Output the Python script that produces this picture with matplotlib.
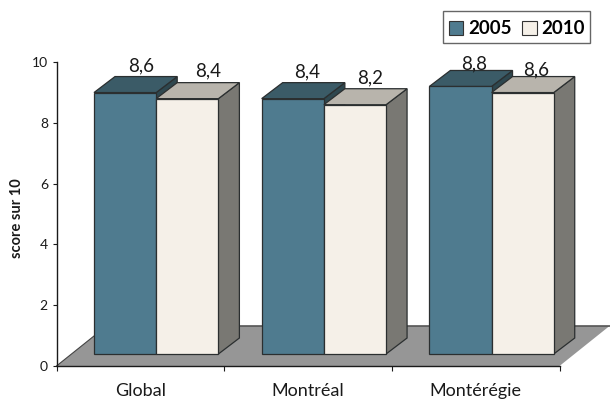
import matplotlib
matplotlib.use("Agg")
import matplotlib.pyplot as plt
from matplotlib.patches import Polygon, Rectangle

plt.rcParams['font.family'] = ['Lato', 'DejaVu Sans']

categories = ["Global", "Montréal", "Montérégie"]
series_2005 = [8.6, 8.4, 8.8]
series_2010 = [8.4, 8.2, 8.6]
value_labels_2005 = ["8,6", "8,4", "8,8"]
value_labels_2010 = ["8,4", "8,2", "8,6"]
y_ticks = [0, 2, 4, 6, 8, 10]

W, H = 610, 399
L, R, T, B = 56.5, 559.5, 62.0, 366.0
fig = plt.figure(figsize=(W / 100, H / 100), dpi=100)
ax = fig.add_axes([L / W, 1 - B / H, (R - L) / W, (B - T) / H])
ax.set_xlim(0, 3)
ax.set_ylim(0, 10)

px_x = 3 / (R - L)          # data units per pixel, horizontally
px_y = 10 / (B - T)         # data units per pixel, vertically
dx, dy = 21 * px_x, 16 * px_y        # oblique depth of each column
base = 12 * px_y                     # column foot above the axis line
bar_w = 62.2 * px_x
first = 37.5 * px_x                  # gap from category edge to first column

EDGE = "#2b2f30"
STYLE_2005 = ("#4f7b8f", "#3b5b67", "#2e474f")
STYLE_2010 = ("#f5f0e8", "#b8b4ac", "#797873")


def column(x0, value, colours, z):
    front, top, side = colours
    y0, y1 = base, base + value
    x1 = x0 + bar_w
    kw = dict(edgecolor=EDGE, linewidth=0.9, joinstyle="miter", clip_on=False, zorder=z)
    ax.add_patch(Polygon([(x1, y0), (x1 + dx, y0 + dy), (x1 + dx, y1 + dy), (x1, y1)],
                         facecolor=side, **kw))
    ax.add_patch(Polygon([(x0, y1), (x0 + dx, y1 + dy), (x1 + dx, y1 + dy), (x1, y1)],
                         facecolor=top, **kw))
    ax.add_patch(Polygon([(x0, y0), (x1, y0), (x1, y1), (x0, y1)],
                         facecolor=front, **kw))


# Floor of the 3D plot
floor_dx, floor_dy = 50 * px_x, 40 * px_y
ax.add_patch(Polygon([(0, 0), (3, 0), (3 + floor_dx, floor_dy), (floor_dx, floor_dy)],
                     facecolor="#969696", edgecolor="none", clip_on=False, zorder=1))
ax.plot([floor_dx, 3 + floor_dx], [floor_dy, floor_dy], color="#555555", lw=1.2,
        clip_on=False, zorder=1.5, solid_capstyle="butt")
ax.plot([0, floor_dx], [0, floor_dy], color="#444444", lw=0.8, clip_on=False, zorder=1.5)

# Label nudges in pixels, relative to the top of each column's back edge
label_nudge_2005 = [(15.7, 5), (14.5, 5), (14, 1.5)]
label_nudge_2010 = [(21, 6), (15, 5), (13.5, 1.5)]

for i in range(len(categories)):
    x_a = i + first
    x_b = x_a + bar_w
    # The 2010 column sits in front of the 2005 column's side face
    column(x_a, series_2005[i], STYLE_2005, 2 + i)
    column(x_b, series_2010[i], STYLE_2010, 2.5 + i)
    for x0, v, s, (nx, ny) in ((x_a, series_2005[i], value_labels_2005[i], label_nudge_2005[i]),
                               (x_b, series_2010[i], value_labels_2010[i], label_nudge_2010[i])):
        ax.annotate(s, (x0 + bar_w / 2, base + v + dy), xytext=(nx * 0.72, ny * 0.72),
                    textcoords="offset points", ha="center", va="baseline",
                    fontsize=13.5, color="#1a1a1a", zorder=10, annotation_clip=False)

# Axes
for name in ("top", "right"):
    ax.spines[name].set_visible(False)
ax.patch.set_visible(False)
for name in ("left", "bottom"):
    ax.spines[name].set_linewidth(1.0)
    ax.spines[name].set_color("#1a1a1a")
    ax.spines[name].set_zorder(8)
ax.set_yticks(y_ticks)
ax.tick_params(axis="y", length=3.2, width=0.8, labelsize=10, pad=3, colors="#1a1a1a")
ax.set_xticks([0, 1, 2, 3])
ax.set_xticklabels([])
ax.set_xticks([i + 0.5 for i in range(3)], minor=True)
ax.set_xticklabels(categories, minor=True)
ax.tick_params(axis="x", which="major", length=3.5, width=0.8, color="#1a1a1a")
ax.tick_params(axis="x", which="minor", length=0, labelsize=13, pad=12, labelcolor="#1a1a1a")

fig.text(17 / W, 1 - 218.5 / H, "score sur 10", rotation=90, ha="center", va="center",
         fontsize=10.5, fontweight="bold", color="#1a1a1a")

# Legend box
fig.add_artist(Rectangle((442.5 / W, 1 - 43 / H), 147.5 / W, 32 / H, transform=fig.transFigure,
                         facecolor="white", edgecolor="#666666", linewidth=1.0))
for xp, label, colours in ((448.5, "2005", STYLE_2005), (522, "2010", STYLE_2010)):
    fig.add_artist(Rectangle((xp / W, 1 - 35 / H), 14.5 / W, 14 / H, transform=fig.transFigure,
                             facecolor=colours[0], edgecolor="#333333", linewidth=0.8))
    fig.text((xp + 19.5) / W, 1 - 28 / H, label, ha="left", va="center", fontsize=13.5,
             fontweight="bold", color="black")

fig.savefig("out.png", dpi=100)
